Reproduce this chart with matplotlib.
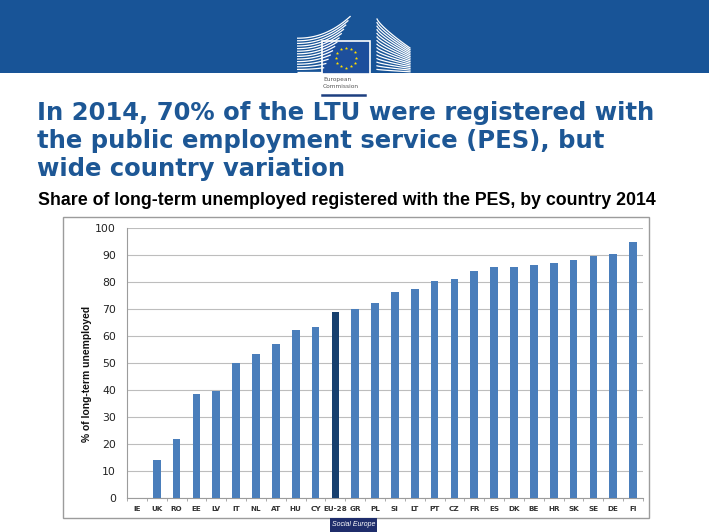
import numpy as np
import matplotlib
matplotlib.use("Agg")
import matplotlib.pyplot as plt
from matplotlib.patches import Rectangle

countries = ["IE", "UK", "RO", "EE", "LV", "IT", "NL", "AT", "HU", "CY", "EU-28", "GR", "PL",
             "SI", "LT", "PT", "CZ", "FR", "ES", "DK", "BE", "HR", "SK", "SE", "DE", "FI"]
shares = [0.0, 14.0, 21.9, 38.5, 39.7, 49.9, 53.4, 56.9, 62.3, 63.4, 68.8, 69.9, 72.1,
          76.5, 77.6, 80.5, 81.3, 84.3, 85.6, 85.6, 86.5, 87.0, 88.3, 89.9, 90.6, 94.9]
yticks = [0, 10, 20, 30, 40, 50, 60, 70, 80, 90, 100]

title_lines = ["In 2014, 70% of the LTU were registered with",
               "the public employment service (PES), but",
               "wide country variation"]
subtitle = "Share of long-term unemployed registered with the PES, by country 2014"
ylabel = "% of long-term unemployed"

W, H = 709, 532
fig = plt.figure(figsize=(W / 100, H / 100), dpi=100)
fig.patch.set_facecolor("white")

# overlay in pixel coordinates
ov = fig.add_axes([0, 0, 1, 1], zorder=0)
ov.set_xlim(0, W)
ov.set_ylim(H, 0)
ov.axis("off")

HEADER = "#185497"
ov.add_patch(Rectangle((0, 0), W, 73, color=HEADER, lw=0))

# logo: building wings (white lines)
for i in range(14):
    yb = 72 - i * 2.6
    xs = np.linspace(297, 322 + i * 2.2, 30)
    t = (xs - xs[0]) / (xs[-1] - xs[0])
    ys = yb - (t ** 2.2) * (i * 1.7)
    ov.plot(xs, ys, color="white", lw=0.9, solid_capstyle="butt")
for i in range(15):
    x0, y0 = 377, 19 + i * 3.6
    x1, y1 = 410, 48 + i * 1.7
    xs = np.linspace(x0, x1, 30)
    t = (xs - x0) / (x1 - x0)
    ys = y0 + (y1 - y0) * (t ** 0.8)
    ov.plot(xs, ys, color="white", lw=0.9)
ov.add_patch(Rectangle((322, 41), 48, 33, facecolor="#1d4f9c", edgecolor="white", lw=1.2))
ang = np.linspace(0, 2 * np.pi, 13)[:-1]
ov.scatter(346 + 10 * np.cos(ang), 57.5 + 10 * np.sin(ang), s=5, color="#ffdd00",
           marker=(5, 1, 0), lw=0, zorder=5)
ov.text(323, 80, "European", fontsize=4.2, color="#555555", va="center", ha="left")
ov.text(323, 87, "Commission", fontsize=4.2, color="#555555", va="center", ha="left")
ov.plot([322, 365], [95, 95], color="#1d3f80", lw=1.8)

# title
TITLE_C = "#1d5795"
for k, line in enumerate(title_lines):
    ov.text(37, 120 + k * 28, line, fontsize=17.5, fontweight="bold", color=TITLE_C,
            family="DejaVu Sans", ha="left", va="baseline")
ov.text(38, 205, subtitle, fontsize=12.8, fontweight="bold", color="black",
        family="Liberation Sans", ha="left", va="baseline")

# chart frame
ov.add_patch(Rectangle((63, 217), 586, 301, facecolor="white", edgecolor="#9c9c9c", lw=1.0))

# social europe tag
ov.add_patch(Rectangle((330, 518), 47, 14, facecolor="#1f2d6b", lw=0, zorder=6))
ov.text(353.5, 525, "Social Europe", fontsize=5.0, style="italic", color="white",
        ha="center", va="center", zorder=7, family="Liberation Sans")

# chart
x0p, x1p, y0p, y1p = 127, 643, 497.7, 228.3
ax = fig.add_axes([x0p / W, (H - y0p) / H, (x1p - x0p) / W, (y0p - y1p) / H], zorder=2)
ax.patch.set_alpha(0)
x = np.arange(len(countries))
colors = ["#17406f" if c == "EU-28" else "#4a7ebb" for c in countries]
ax.bar(x, shares, width=0.39, color=colors, zorder=3)
ax.set_xlim(-0.5, len(countries) - 0.5)
ax.set_ylim(0, 100)
ax.set_yticks(yticks)
ax.set_yticklabels([str(v) for v in yticks], fontsize=7.8, color="#222222")
ax.set_xticks(x)
ax.set_xticklabels(countries, fontsize=5.2, fontweight="bold", color="#333333")
ax.tick_params(axis="x", length=0, pad=6)
ax.tick_params(axis="y", length=0, pad=8)
ax.set_xticks(np.arange(-0.5, len(countries), 1), minor=True)
ax.tick_params(axis="x", which="minor", length=2.5, color="#9c9c9c", direction="out")
ax.yaxis.grid(True, color="#bdbdbd", lw=0.8, zorder=0)
for s in ["top", "right"]:
    ax.spines[s].set_visible(False)
ax.spines["left"].set_color("#9c9c9c")
ax.spines["bottom"].set_color("#9c9c9c")
ax.set_ylabel(ylabel, fontsize=7.4, fontweight="bold", color="#111111",
              family="Liberation Sans")
ax.yaxis.set_label_coords((92 - x0p) / (x1p - x0p), (y0p - 374) / (y0p - y1p))

fig.savefig("out.png", dpi=100)
